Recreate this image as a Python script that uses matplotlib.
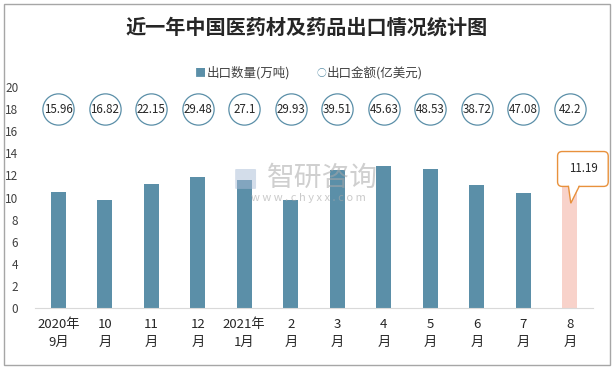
import matplotlib
matplotlib.use("Agg")
import matplotlib.pyplot as plt
from matplotlib.patches import Rectangle, FancyBboxPatch, Polygon
import numpy as np

plt.rcParams["font.family"] = ["Noto Sans CJK SC", "DejaVu Sans"]

# ── 数据 ──
months = ["2020年\n9月", "10\n月", "11\n月", "12\n月", "2021年\n1月", "2\n月",
          "3\n月", "4\n月", "5\n月", "6\n月", "7\n月", "8\n月"]
volume = [10.5, 9.8, 11.2, 11.9, 11.6, 9.8, 12.5, 12.85, 12.6, 11.15, 10.4, 11.19]   # 万吨
amount = [15.96, 16.82, 22.15, 29.48, 27.1, 29.93, 39.51, 45.63, 48.53, 38.72, 47.08, 42.2]  # 亿美元
circle_y = 18

bar_color = "#5b8fa8"
hl_color = "#f8d2ca"
call_color = "#e8913c"

fig = plt.figure(figsize=(6.14, 3.69), dpi=100)
ax = fig.add_axes([0.057, 0.165, 0.909, 0.599])

x = np.arange(len(months))
colors = [bar_color] * (len(months) - 1) + [hl_color]
ax.bar(x, volume, width=0.32, color=colors, zorder=2)

# ── 出口金额：圆圈 ──
ax.scatter(x, [circle_y] * len(x), s=22.5 ** 2, facecolor="white",
           edgecolor="#5b8fa8", linewidth=0.9, zorder=3)
for xi, v in zip(x, amount):
    ax.text(xi, circle_y, f"{v:g}", ha="center", va="center", fontsize=8.3,
            color="#262626", zorder=4)

ax.set_xlim(-0.5, len(months) - 0.5)
ax.set_ylim(0, 20)
ax.set_yticks(range(0, 21, 2))
ax.set_xticks(x)
ax.set_xticklabels(months, fontsize=9.5, color="#262626", linespacing=1.55)
ax.tick_params(axis="y", labelsize=8.5, labelcolor="#404040", length=0, pad=12)
ax.tick_params(axis="x", length=0, pad=7)
for s in ["top", "right", "left"]:
    ax.spines[s].set_visible(False)
ax.spines["bottom"].set_color("#d9d9d9")

# ── 最后一个月的标注框 ──
last = x[-1]
t = ax.text(last + 0.28, volume[-1] + 1.4, f"{volume[-1]:g}", ha="center", va="center",
            fontsize=8.3, color="#262626", zorder=6,
            bbox=dict(boxstyle="round,pad=0.95,rounding_size=0.4", fc="white",
                      ec=call_color, lw=1.0))
fig.canvas.draw()
ext = t.get_bbox_patch().get_window_extent()
inv = ax.transData.inverted()
(bx0, by0), (bx1, by1) = inv.transform([[ext.x0, ext.y0], [ext.x1, ext.y1]])
tail_l, tail_r = last - 0.03, last + 0.2
tip = (last + 0.02, volume[-1] - 1.7)
ax.add_patch(Polygon([(tail_l, by0 + 0.15), tip, (tail_r, by0 + 0.15)], closed=True,
                     fc="white", ec="none", zorder=7))
ax.plot([tail_l, tip[0], tail_r], [by0, tip[1], by0], color=call_color, lw=1.0,
        zorder=8, solid_joinstyle="miter")

# ── 水印 ──
fig.text(0.525, 0.518, "智研咨询", fontsize=20, color="#a8a8a8", alpha=0.55,
         ha="center", va="center")
fig.patches.append(FancyBboxPatch((0.385, 0.49), 0.03, 0.05, boxstyle="round,pad=0.002",
                                  transform=fig.transFigure, fc="#a9bcd6", ec="none",
                                  alpha=0.5))
fig.text(0.503, 0.463, "w w w . c h y x x . c o m", fontsize=8, color="#a8a8a8",
         alpha=0.6, ha="center", va="center")

# ── 标题与图例 ──
fig.text(0.5, 0.927, "近一年中国医药材及药品出口情况统计图", fontsize=14.5,
         fontweight="bold", color="#262626", ha="center", va="center")
fig.text(0.318, 0.803, "■", fontsize=8, color=bar_color, ha="left", va="center")
fig.text(0.336, 0.803, "出口数量(万吨)", fontsize=9, color="#404040", ha="left", va="center")
fig.text(0.515, 0.803, "○", fontsize=7, color=bar_color, ha="left", va="center")
fig.text(0.532, 0.803, "出口金额(亿美元)", fontsize=9, color="#404040", ha="left", va="center")

# 外框
fig.patches.append(Rectangle((0.007, 0.012), 0.986, 0.978, transform=fig.transFigure,
                             fill=False, ec="#a6a6a6", lw=1.0))

fig.savefig("out.png", dpi=100)
